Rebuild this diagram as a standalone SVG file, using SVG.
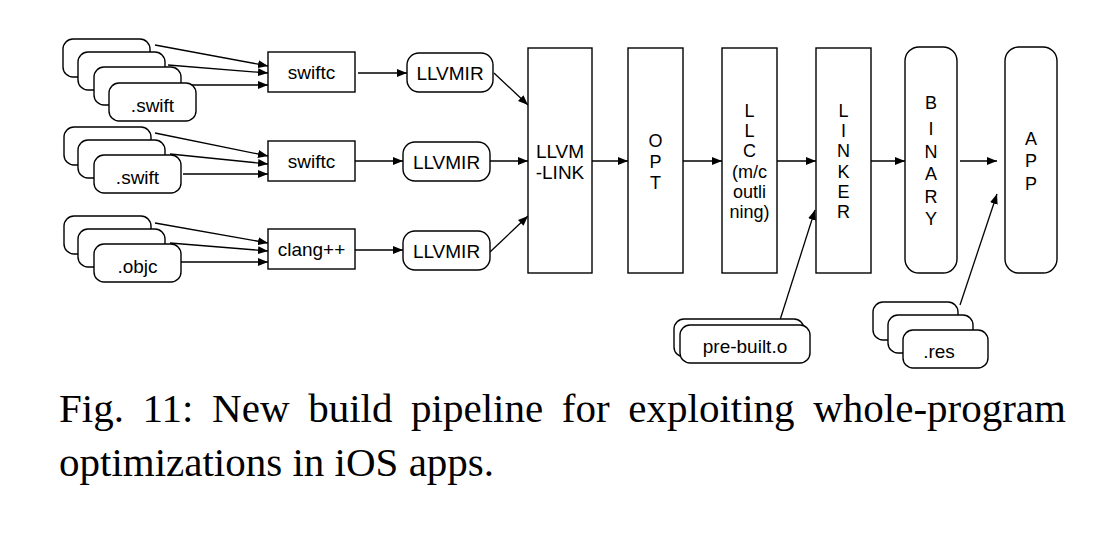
<svg xmlns="http://www.w3.org/2000/svg" width="1120" height="550" viewBox="0 0 1120 550">
<defs>
<marker id="ah" viewBox="0 0 10 8" refX="10" refY="4" markerWidth="10" markerHeight="8" markerUnits="userSpaceOnUse" orient="auto">
<path d="M0,0 L10,4 L0,8 z" fill="#000"/>
</marker>
</defs>
<style>
.card{fill:#fff;stroke:#000;stroke-width:1.4}
.box{fill:#fff;stroke:#000;stroke-width:1.4}
.lbl{font-family:"Liberation Sans",Arial,sans-serif;font-size:19px;fill:#000;text-anchor:middle}
.vl{font-family:"Liberation Sans",Arial,sans-serif;font-size:18px;fill:#000;text-anchor:middle}
.cap{font-family:"Liberation Serif","Times New Roman",serif;font-size:41px;fill:#000}
#connectors line{stroke:#000;stroke-width:1.3;fill:none;marker-end:url(#ah)}
</style>
<rect width="1120" height="550" fill="#fff"/>

<g id="connectors">
<line x1="155" y1="45" x2="268" y2="66"/>
<line x1="168" y1="65" x2="268" y2="73"/>
<line x1="181" y1="85" x2="268" y2="85"/>
<line x1="155" y1="133" x2="268" y2="156"/>
<line x1="170" y1="154" x2="268" y2="164"/>
<line x1="183" y1="174" x2="268" y2="174"/>
<line x1="155" y1="223" x2="268" y2="243"/>
<line x1="170" y1="243" x2="268" y2="251"/>
<line x1="180" y1="262" x2="268" y2="262"/>
<line x1="358" y1="73" x2="407" y2="73"/>
<line x1="355" y1="161" x2="403" y2="161"/>
<line x1="355" y1="250" x2="403" y2="250"/>
<line x1="494" y1="73" x2="528" y2="105"/>
<line x1="490" y1="161" x2="528" y2="161"/>
<line x1="490" y1="252" x2="528" y2="216"/>
<line x1="592" y1="161" x2="628" y2="161"/>
<line x1="683" y1="161" x2="722" y2="161"/>
<line x1="777" y1="161" x2="816" y2="161"/>
<line x1="871" y1="161" x2="905" y2="161"/>
<line x1="960" y1="161" x2="997" y2="161"/>
<line x1="780" y1="320" x2="815" y2="210"/>
<line x1="960" y1="305" x2="997" y2="194"/>
</g>

<g id="swift-files-1">
<rect class="card" x="63" y="39" width="87" height="38" rx="10"/>
<rect class="card" x="78" y="52" width="87" height="38" rx="10"/>
<rect class="card" x="94" y="67" width="87" height="38" rx="10"/>
<rect class="card" x="109" y="83" width="87" height="38" rx="10"/>
<text class="lbl" x="152.5" y="112">.swift</text>
</g>
<g id="swift-files-2">
<rect class="card" x="64" y="127" width="87" height="38" rx="10"/>
<rect class="card" x="78" y="140" width="87" height="38" rx="10"/>
<rect class="card" x="94" y="155" width="87" height="38" rx="10"/>
<text class="lbl" x="137.5" y="184">.swift</text>
</g>
<g id="objc-files">
<rect class="card" x="64" y="216" width="87" height="38" rx="10"/>
<rect class="card" x="78" y="229" width="87" height="38" rx="10"/>
<rect class="card" x="94" y="244" width="87" height="38" rx="10"/>
<text class="lbl" x="137.5" y="273">.objc</text>
</g>

<g id="swiftc-1"><rect class="box" x="268" y="52" width="87" height="40"/><text class="lbl" x="311.5" y="79">swiftc</text></g>
<g id="swiftc-2"><rect class="box" x="268" y="141" width="87" height="40"/><text class="lbl" x="311.5" y="168">swiftc</text></g>
<g id="clang"><rect class="box" x="268" y="229" width="87" height="40"/><text class="lbl" x="311.5" y="256">clang++</text></g>

<g id="llvmir-1"><rect class="box" x="407" y="53" width="86" height="39" rx="12"/><text class="lbl" x="450" y="80">LLVMIR</text></g>
<g id="llvmir-2"><rect class="box" x="403" y="142" width="87" height="39" rx="12"/><text class="lbl" x="446.5" y="169">LLVMIR</text></g>
<g id="llvmir-3"><rect class="box" x="403" y="231" width="87" height="39" rx="12"/><text class="lbl" x="446.5" y="258">LLVMIR</text></g>

<g id="llvm-link"><rect class="box" x="528" y="48" width="64" height="225"/>
<text class="lbl" x="560" y="158">LLVM</text><text class="lbl" x="560" y="179">-LINK</text></g>

<g id="opt"><rect class="box" x="628" y="48" width="55" height="225"/>
<text class="vl" x="655.5" y="147">O</text><text class="vl" x="655.5" y="168">P</text><text class="vl" x="655.5" y="189">T</text></g>

<g id="llc"><rect class="box" x="722" y="48" width="55" height="225"/>
<text class="vl" x="749.5" y="117">L</text><text class="vl" x="749.5" y="137">L</text><text class="vl" x="749.5" y="157">C</text>
<text class="vl" x="749.5" y="178">(m/c</text><text class="vl" x="749.5" y="198">outli</text><text class="vl" x="749.5" y="218">ning)</text></g>

<g id="linker"><rect class="box" x="816" y="48" width="55" height="225"/>
<text class="vl" x="843.5" y="117">L</text><text class="vl" x="843.5" y="137">I</text><text class="vl" x="843.5" y="157">N</text>
<text class="vl" x="843.5" y="178">K</text><text class="vl" x="843.5" y="198">E</text><text class="vl" x="843.5" y="218">R</text></g>

<g id="binary"><rect class="box" x="905" y="47" width="52" height="226" rx="14"/>
<text class="vl" x="931" y="109">B</text><text class="vl" x="931" y="135">I</text><text class="vl" x="931" y="158">N</text>
<text class="vl" x="931" y="180">A</text><text class="vl" x="931" y="203">R</text><text class="vl" x="931" y="225">Y</text></g>

<g id="app"><rect class="box" x="1005" y="47" width="52" height="226" rx="14"/>
<text class="vl" x="1031" y="145">A</text><text class="vl" x="1031" y="167">P</text><text class="vl" x="1031" y="190">P</text></g>

<g id="prebuilt">
<rect class="card" x="674" y="319" width="130" height="38" rx="10"/>
<rect class="card" x="680" y="325" width="130" height="38" rx="10"/>
<text class="lbl" x="745" y="353">pre-built.o</text>
</g>

<g id="res-files">
<rect class="card" x="873" y="302" width="85" height="38" rx="10"/>
<rect class="card" x="888" y="315" width="85" height="38" rx="10"/>
<rect class="card" x="903" y="330" width="85" height="38" rx="10"/>
<text class="lbl" x="939" y="358">.res</text>
</g>

<g id="caption">
<text class="cap" x="59" y="422" word-spacing="8.4">Fig. 11: New build pipeline for exploiting whole-program</text>
<text class="cap" x="59" y="476">optimizations in iOS apps.</text>
</g>
</svg>
